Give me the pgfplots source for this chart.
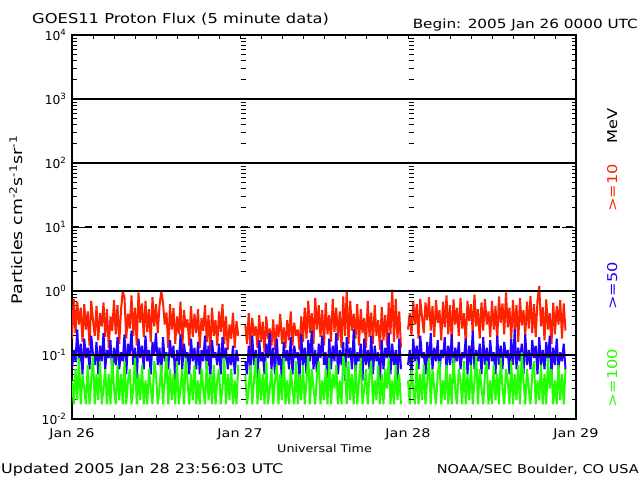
\documentclass[border=0pt]{standalone}
\usepackage{fontspec}
\setmainfont{DejaVu Sans}
\newfontfamily\wide[FakeStretch=1.2]{DejaVu Sans}
\usepackage{pgfplots}
\pgfplotsset{compat=1.18}
\usepackage{pgfplotstable}
\definecolor{pred}{RGB}{255,34,0}
\definecolor{pblue}{RGB}{34,0,255}
\definecolor{pgreen}{RGB}{34,255,0}

% >=10 MeV, 15-minute samples; nan = data gap
\pgfplotstableread[header=false,row sep=\\]{
0.18\\ 0.75\\ 0.22\\ 0.68\\ 0.30\\ 0.55\\ 0.16\\ 0.62\\ 0.25\\ 0.48\\ 0.14\\ 0.70\\ 0.35\\ 0.20\\ 0.58\\ 0.17\\ 0.45\\ 0.28\\ 0.66\\ 0.19\\ 0.52\\ 0.13\\ 0.40\\ 0.24\\
0.72\\ 0.21\\ 0.60\\ 0.15\\ 0.50\\ 1.00\\ 0.78\\ 0.18\\ 0.44\\ 0.26\\ 0.85\\ 0.20\\ 0.55\\ 0.14\\ 0.95\\ 0.32\\ 0.64\\ 0.19\\ 0.70\\ 0.23\\ 0.52\\ 0.16\\ 0.80\\ 0.28\\
0.62\\ 0.22\\ 0.58\\ 1.00\\ 0.66\\ 0.30\\ 0.46\\ 0.13\\ 0.62\\ 0.25\\ 0.54\\ 0.15\\ 0.40\\ 0.21\\ 0.68\\ 0.12\\ 0.50\\ 0.27\\ 0.36\\ 0.14\\ 0.58\\ 0.19\\ 0.44\\ 0.22\\
0.52\\ 0.13\\ 0.38\\ 0.24\\ 0.60\\ 0.16\\ 0.42\\ 0.11\\ 0.55\\ 0.20\\ 0.35\\ 0.14\\ 0.48\\ 0.23\\ 0.62\\ 0.15\\ 0.40\\ 0.12\\ 0.30\\ 0.18\\ 0.46\\ 0.13\\ 0.34\\ 0.20\\
nan\\ nan\\ nan\\
0.30\\ 0.15\\ 0.45\\ 0.12\\ 0.38\\ 0.20\\ 0.28\\ 0.13\\ 0.42\\ 0.16\\ 0.33\\ 0.11\\ 0.40\\ 0.18\\ 0.26\\ 0.14\\ 0.36\\ 0.12\\ 0.30\\ 0.19\\ 0.44\\ 0.15\\ 0.27\\ 0.13\\
0.35\\ 0.17\\ 0.48\\ 0.14\\ 0.32\\ 0.20\\ 0.25\\ 0.12\\ 0.40\\ 0.16\\ 0.55\\ 0.18\\ 0.70\\ 0.22\\ 0.45\\ 0.15\\ 0.78\\ 0.25\\ 0.60\\ 0.19\\ 0.50\\ 0.14\\ 0.66\\ 0.21\\
0.42\\ 0.16\\ 0.75\\ 0.23\\ 0.55\\ 0.17\\ 0.48\\ 0.13\\ 0.82\\ 0.20\\ 1.00\\ 0.15\\ 0.70\\ 0.24\\ 0.44\\ 0.18\\ 0.62\\ 0.14\\ 0.52\\ 0.22\\ 0.38\\ 0.13\\ 0.70\\ 0.19\\
0.46\\ 0.15\\ 0.60\\ 0.20\\ 0.35\\ 0.12\\ 0.56\\ 0.17\\ 0.42\\ 0.14\\ 0.66\\ 0.21\\ 1.05\\ 0.16\\ 0.75\\ 0.18\\ 0.48\\ 0.13\\
nan\\ nan\\ nan\\
0.25\\ 0.45\\ 0.20\\ 0.70\\ 0.30\\ 0.62\\ 0.18\\ 0.75\\ 0.40\\ 0.22\\ 0.66\\ 0.35\\ 0.80\\ 0.24\\ 0.58\\ 0.19\\ 0.72\\ 0.32\\ 0.50\\ 0.17\\ 0.68\\ 0.27\\ 0.85\\ 0.21\\
0.60\\ 0.16\\ 0.74\\ 0.30\\ 0.55\\ 0.20\\ 0.78\\ 0.26\\ 0.45\\ 0.15\\ 0.70\\ 0.34\\ 0.62\\ 0.22\\ 0.88\\ 0.28\\ 0.52\\ 0.18\\ 0.66\\ 0.24\\ 0.75\\ 0.30\\ 0.48\\ 0.19\\
0.70\\ 0.25\\ 0.58\\ 0.17\\ 0.82\\ 0.32\\ 0.64\\ 0.21\\ 0.95\\ 0.27\\ 0.55\\ 0.18\\ 0.72\\ 0.23\\ 0.60\\ 0.16\\ 0.78\\ 0.29\\ 0.50\\ 0.20\\ 0.68\\ 0.26\\ 0.84\\ 0.22\\
0.62\\ 0.19\\ 0.70\\ 1.20\\ 0.28\\ 0.56\\ 0.17\\ 0.74\\ 0.25\\ 0.45\\ 0.15\\ 0.66\\ 0.21\\ 0.58\\ 0.30\\ 0.72\\ 0.18\\ 0.64\\ 0.24\\
}\tabR

% >=50 MeV
\pgfplotstableread[header=false,row sep=\\]{
0.06\\ 0.12\\ 0.08\\ 0.25\\ 0.07\\ 0.15\\ 0.05\\ 0.18\\ 0.09\\ 0.13\\ 0.06\\ 0.20\\ 0.10\\ 0.07\\ 0.16\\ 0.05\\ 0.14\\ 0.08\\ 0.22\\ 0.06\\ 0.12\\ 0.09\\ 0.17\\ 0.05\\
0.13\\ 0.07\\ 0.19\\ 0.06\\ 0.11\\ 0.08\\ 0.21\\ 0.05\\ 0.15\\ 0.10\\ 0.24\\ 0.07\\ 0.13\\ 0.04\\ 0.18\\ 0.09\\ 0.14\\ 0.06\\ 0.20\\ 0.08\\ 0.12\\ 0.05\\ 0.16\\ 0.10\\
0.22\\ 0.07\\ 0.13\\ 0.05\\ 0.19\\ 0.08\\ 0.11\\ 0.06\\ 0.17\\ 0.09\\ 0.14\\ 0.04\\ 0.12\\ 0.07\\ 0.21\\ 0.06\\ 0.15\\ 0.09\\ 0.11\\ 0.05\\ 0.18\\ 0.08\\ 0.13\\ 0.06\\
0.16\\ 0.05\\ 0.12\\ 0.08\\ 0.20\\ 0.06\\ 0.14\\ 0.04\\ 0.17\\ 0.09\\ 0.11\\ 0.07\\ 0.15\\ 0.05\\ 0.19\\ 0.08\\ 0.13\\ 0.06\\ 0.10\\ 0.07\\ 0.14\\ 0.05\\ 0.12\\ 0.08\\
nan\\ nan\\ nan\\
0.08\\ 0.05\\ 0.14\\ 0.06\\ 0.20\\ 0.07\\ 0.12\\ 0.04\\ 0.17\\ 0.08\\ 0.11\\ 0.05\\ 0.15\\ 0.09\\ 0.22\\ 0.06\\ 0.13\\ 0.05\\ 0.18\\ 0.07\\ 0.10\\ 0.04\\ 0.16\\ 0.08\\
0.12\\ 0.06\\ 0.19\\ 0.05\\ 0.14\\ 0.09\\ 0.11\\ 0.04\\ 0.21\\ 0.07\\ 0.13\\ 0.05\\ 0.17\\ 0.08\\ 0.24\\ 0.06\\ 0.12\\ 0.05\\ 0.15\\ 0.09\\ 0.20\\ 0.07\\ 0.11\\ 0.04\\
0.18\\ 0.06\\ 0.14\\ 0.08\\ 0.22\\ 0.05\\ 0.12\\ 0.07\\ 0.16\\ 0.04\\ 0.19\\ 0.09\\ 0.13\\ 0.06\\ 0.25\\ 0.05\\ 0.11\\ 0.08\\ 0.15\\ 0.04\\ 0.18\\ 0.07\\ 0.12\\ 0.06\\
0.20\\ 0.05\\ 0.14\\ 0.08\\ 0.11\\ 0.04\\ 0.17\\ 0.06\\ 0.13\\ 0.09\\ 0.22\\ 0.05\\ 0.15\\ 0.07\\ 0.12\\ 0.04\\ 0.18\\ 0.06\\
nan\\ nan\\ nan\\
0.07\\ 0.12\\ 0.05\\ 0.18\\ 0.08\\ 0.14\\ 0.06\\ 0.20\\ 0.09\\ 0.11\\ 0.05\\ 0.16\\ 0.07\\ 0.22\\ 0.06\\ 0.13\\ 0.08\\ 0.17\\ 0.05\\ 0.12\\ 0.09\\ 0.19\\ 0.06\\ 0.14\\
0.07\\ 0.21\\ 0.05\\ 0.13\\ 0.08\\ 0.16\\ 0.06\\ 0.11\\ 0.09\\ 0.18\\ 0.05\\ 0.14\\ 0.07\\ 0.24\\ 0.06\\ 0.12\\ 0.08\\ 0.15\\ 0.05\\ 0.19\\ 0.07\\ 0.13\\ 0.06\\ 0.17\\
0.08\\ 0.11\\ 0.05\\ 0.20\\ 0.07\\ 0.14\\ 0.06\\ 0.16\\ 0.09\\ 0.12\\ 0.05\\ 0.18\\ 0.07\\ 0.25\\ 0.06\\ 0.13\\ 0.08\\ 0.15\\ 0.05\\ 0.21\\ 0.07\\ 0.12\\ 0.06\\ 0.17\\
0.09\\ 0.14\\ 0.05\\ 0.19\\ 0.07\\ 0.12\\ 0.06\\ 0.16\\ 0.08\\ 0.20\\ 0.05\\ 0.13\\ 0.07\\ 0.18\\ 0.06\\ 0.11\\ 0.08\\ 0.15\\ 0.06\\
}\tabB

% >=100 MeV
\pgfplotstableread[header=false,row sep=\\]{
0.04\\ 0.017\\ 0.06\\ 0.02\\ 0.09\\ 0.017\\ 0.05\\ 0.03\\ 0.017\\ 0.07\\ 0.017\\ 0.04\\ 0.10\\ 0.017\\ 0.05\\ 0.02\\ 0.08\\ 0.017\\ 0.03\\ 0.06\\ 0.017\\ 0.05\\ 0.017\\ 0.09\\
0.03\\ 0.017\\ 0.07\\ 0.02\\ 0.05\\ 0.017\\ 0.08\\ 0.017\\ 0.04\\ 0.06\\ 0.017\\ 0.03\\ 0.09\\ 0.017\\ 0.05\\ 0.02\\ 0.07\\ 0.017\\ 0.04\\ 0.017\\ 0.06\\ 0.03\\ 0.017\\ 0.08\\
0.05\\ 0.017\\ 0.03\\ 0.07\\ 0.017\\ 0.04\\ 0.10\\ 0.017\\ 0.06\\ 0.02\\ 0.05\\ 0.017\\ 0.08\\ 0.017\\ 0.03\\ 0.06\\ 0.017\\ 0.09\\ 0.04\\ 0.017\\ 0.05\\ 0.02\\ 0.07\\ 0.017\\
0.04\\ 0.017\\ 0.06\\ 0.03\\ 0.017\\ 0.08\\ 0.02\\ 0.05\\ 0.017\\ 0.07\\ 0.017\\ 0.04\\ 0.06\\ 0.017\\ 0.03\\ 0.09\\ 0.017\\ 0.05\\ 0.02\\ 0.06\\ 0.017\\ 0.04\\ 0.017\\ 0.07\\
nan\\ nan\\ nan\\
0.05\\ 0.017\\ 0.03\\ 0.07\\ 0.017\\ 0.04\\ 0.09\\ 0.017\\ 0.06\\ 0.02\\ 0.05\\ 0.017\\ 0.08\\ 0.017\\ 0.03\\ 0.06\\ 0.017\\ 0.04\\ 0.07\\ 0.017\\ 0.05\\ 0.02\\ 0.09\\ 0.017\\
0.04\\ 0.017\\ 0.06\\ 0.03\\ 0.017\\ 0.08\\ 0.017\\ 0.05\\ 0.02\\ 0.07\\ 0.017\\ 0.04\\ 0.10\\ 0.017\\ 0.06\\ 0.03\\ 0.017\\ 0.05\\ 0.08\\ 0.017\\ 0.04\\ 0.02\\ 0.06\\ 0.017\\
0.09\\ 0.017\\ 0.05\\ 0.03\\ 0.07\\ 0.017\\ 0.04\\ 0.017\\ 0.10\\ 0.06\\ 0.017\\ 0.08\\ 0.02\\ 0.05\\ 0.017\\ 0.07\\ 0.017\\ 0.04\\ 0.09\\ 0.017\\ 0.03\\ 0.06\\ 0.017\\ 0.05\\
0.08\\ 0.017\\ 0.04\\ 0.02\\ 0.07\\ 0.017\\ 0.05\\ 0.017\\ 0.06\\ 0.03\\ 0.09\\ 0.017\\ 0.04\\ 0.017\\ 0.07\\ 0.02\\ 0.05\\ 0.017\\
nan\\ nan\\ nan\\
0.04\\ 0.017\\ 0.06\\ 0.03\\ 0.017\\ 0.08\\ 0.017\\ 0.05\\ 0.02\\ 0.07\\ 0.017\\ 0.04\\ 0.09\\ 0.017\\ 0.06\\ 0.03\\ 0.017\\ 0.05\\ 0.08\\ 0.017\\ 0.04\\ 0.02\\ 0.07\\ 0.017\\
0.05\\ 0.017\\ 0.09\\ 0.03\\ 0.017\\ 0.06\\ 0.04\\ 0.017\\ 0.08\\ 0.017\\ 0.05\\ 0.02\\ 0.07\\ 0.017\\ 0.04\\ 0.10\\ 0.017\\ 0.06\\ 0.03\\ 0.017\\ 0.05\\ 0.08\\ 0.017\\ 0.04\\
0.017\\ 0.07\\ 0.02\\ 0.05\\ 0.017\\ 0.09\\ 0.03\\ 0.017\\ 0.06\\ 0.04\\ 0.017\\ 0.08\\ 0.017\\ 0.05\\ 0.02\\ 0.07\\ 0.017\\ 0.11\\ 0.04\\ 0.017\\ 0.06\\ 0.03\\ 0.017\\ 0.05\\
0.08\\ 0.017\\ 0.04\\ 0.02\\ 0.07\\ 0.017\\ 0.05\\ 0.017\\ 0.09\\ 0.03\\ 0.06\\ 0.017\\ 0.04\\ 0.017\\ 0.07\\ 0.02\\ 0.05\\ 0.017\\ 0.06\\
}\tabG

\begin{document}
\begin{tikzpicture}[x=1pt,y=1pt]
\useasboundingbox (0,0) rectangle (640,480);
\begin{axis}[
  at={(72pt,61pt)}, anchor=south west,
  scale only axis, width=504pt, height=384pt,
  ymode=log, xmin=0, xmax=3, ymin=1e-2, ymax=1e4,
  xtick={0,1,2,3}, xticklabels={Jan 26,Jan 27,Jan 28,Jan 29},
  minor x tick num=7,
  ytick={1e-2,1e-1,1,1e1,1e2,1e3,1e4},
  yticklabels={10\textsuperscript{-2},10\textsuperscript{-1},10\textsuperscript{0},10\textsuperscript{1},10\textsuperscript{2},10\textsuperscript{3},10\textsuperscript{4}},
  major tick length=4.5pt, minor tick length=4.5pt,
  tick style={black, line width=0.8pt},
  axis line style={line width=1.3pt},
  yticklabel style={font=\fontsize{12.3}{14}\selectfont, xshift=-2pt},
  xticklabel style={font=\wide\fontsize{12}{14}\selectfont, yshift=-6pt},
  unbounded coords=jump,
  every axis plot/.append style={line width=2pt, line join=bevel},
]
\addplot[pred] table[x expr=\coordindex/96, y index=0] {\tabR};
\addplot[pblue] table[x expr=\coordindex/96, y index=0] {\tabB};
\addplot[pgreen] table[x expr=\coordindex/96, y index=0] {\tabG};
\addplot[black, line width=1.1pt, forget plot] coordinates {(0,0.1)(3,0.1)};
\addplot[black, line width=1.1pt, forget plot] coordinates {(0,1)(3,1)};
\addplot[black, line width=1.1pt, dash pattern=on 7pt off 6pt, forget plot] coordinates {(0,10)(3,10)};
\addplot[black, line width=1.1pt, forget plot] coordinates {(0,100)(3,100)};
\addplot[black, line width=1.1pt, forget plot] coordinates {(0,1000)(3,1000)};
\end{axis}
% tick columns at the day boundaries
\foreach \xx in {240,408} {
  \foreach \d in {0,...,5} {
    \foreach \m in {2,...,9} {
      \draw[line width=0.8pt] (\xx+0.5, {61+64*(\d+log10(\m))}) -- ++(5,0);
    }
  }
  \draw[line width=0.8pt] (\xx, 253) -- ++(10,0);
}
\draw[line width=0.8pt] (72,253) -- ++(14,0);
\draw[line width=0.8pt] (576,253) -- ++(-14,0);
% texts
\node[anchor=base west, inner sep=0, font=\wide\fontsize{13.6}{16}\selectfont] at (32,456.5) {GOES11 Proton Flux (5 minute data)};
\node[anchor=base east, inner sep=0, font=\wide\fontsize{12.7}{15}\selectfont] at (638,451.5) {Begin: 2005 Jan 26 0000 UTC};
\node[anchor=base west, inner sep=0, font=\wide\fontsize{13.3}{15}\selectfont] at (1,7) {Updated 2005 Jan 28 23:56:03 UTC};
\node[anchor=base east, inner sep=0, font=\wide\fontsize{12.1}{15}\selectfont] at (639,7) {NOAA/SEC Boulder, CO USA};
\node[anchor=base, inner sep=0, font=\wide\fontsize{10.6}{12}\selectfont] at (324.5,28) {Universal Time};
\node[rotate=90, anchor=base, inner sep=0, font=\wide\fontsize{14.5}{16}\selectfont] at (22,260) {Particles cm\textsuperscript{-2}s\textsuperscript{-1}sr\textsuperscript{-1}};
\node[rotate=90, anchor=base, inner sep=0, font=\wide\fontsize{13.5}{15}\selectfont, text=black] at (617,354) {MeV};
\node[rotate=90, anchor=base, inner sep=0, font=\wide\fontsize{13.5}{15}\selectfont, text=pred] at (617,292) {>=10};
\node[rotate=90, anchor=base, inner sep=0, font=\wide\fontsize{13.5}{15}\selectfont, text=pblue] at (617,194) {>=50};
\node[rotate=90, anchor=base, inner sep=0, font=\wide\fontsize{13.5}{15}\selectfont, text=pgreen] at (617,102) {>=100};
\end{tikzpicture}
\end{document}
